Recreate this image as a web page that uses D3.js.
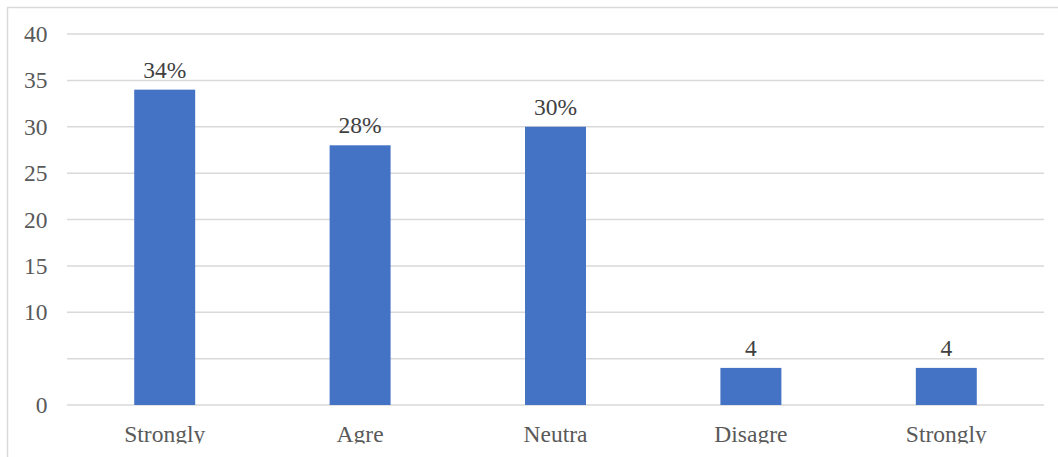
<!DOCTYPE html>
<html>
<head>
<meta charset="utf-8">
<script src="https://cdn.jsdelivr.net/npm/d3@7"></script>
<style>
  html, body { margin: 0; padding: 0; background: #fff; }
  svg { display: block; }
  text { font-family: "Liberation Serif", "Times New Roman", serif; }
</style>
</head>
<body>
<svg id="chart" width="1058" height="457"></svg>
<script>
// Survey responses (counts / percentages)
const categories = ["Strongly", "Agre", "Neutra", "Disagre", "Strongly"];
const values = [34, 28, 30, 4, 4];
const valueLabels = ["34%", "28%", "30%", "4", "4"];
const gridValues = [0, 5, 10, 15, 20, 25, 30, 35, 40];
const tickValues = [0, 10, 15, 20, 25, 30, 35, 40];
const tickLabels = ["0", "10", "15", "20", "25", "30", "35", "40"];

const svg = d3.select("#chart");
const W = 1058, H = 457;
const plot = { left: 67, right: 1044, top: 34, bottom: 405 };
const FONT = 23.5;

const x = d3.scaleBand()
  .domain(d3.range(categories.length))
  .range([plot.left, plot.right])
  .paddingInner(0.688)
  .paddingOuter(0.344);

const y = d3.scaleLinear()
  .domain([0, 40])
  .range([plot.bottom, plot.top]);

// chart frame (top and left edges)
svg.append("path")
  .attr("d", `M7.5,${H} V7.5 H${W}`)
  .attr("fill", "none")
  .attr("stroke", "#d9d9d9")
  .attr("stroke-width", 1.5);

// horizontal gridlines
svg.append("g")
  .selectAll("line")
  .data(gridValues)
  .join("line")
  .attr("x1", plot.left)
  .attr("x2", plot.right)
  .attr("y1", d => y(d))
  .attr("y2", d => y(d))
  .attr("stroke", "#d9d9d9")
  .attr("stroke-width", 1.5);

// y axis labels
const yAxis = d3.axisLeft(y)
  .tickValues(tickValues)
  .tickFormat((d, i) => tickLabels[i])
  .tickSize(0)
  .tickPadding(19.5);

const yg = svg.append("g")
  .attr("transform", `translate(${plot.left},0)`)
  .call(yAxis);
yg.select(".domain").remove();
yg.selectAll("text")
  .attr("font-size", FONT)
  .attr("fill", "#595959");

// bars
svg.append("g")
  .selectAll("rect")
  .data(values)
  .join("rect")
  .attr("x", (d, i) => x(i))
  .attr("y", d => y(d))
  .attr("width", x.bandwidth())
  .attr("height", d => y(0) - y(d))
  .attr("fill", "#4472c4");

// value labels above bars
svg.append("g")
  .selectAll("text")
  .data(values)
  .join("text")
  .attr("x", (d, i) => x(i) + x.bandwidth() / 2)
  .attr("y", d => y(d) - 12)
  .attr("text-anchor", "middle")
  .attr("font-size", FONT)
  .attr("fill", "#404040")
  .text((d, i) => valueLabels[i]);

// category labels, cut off at the lower edge of the chart area
svg.append("clipPath")
  .attr("id", "cat-clip")
  .append("rect")
  .attr("x", 0)
  .attr("y", 0)
  .attr("width", W)
  .attr("height", 443.5);

const xAxis = d3.axisBottom(x)
  .tickFormat(i => categories[i])
  .tickSize(0);

const xg = svg.append("g")
  .attr("clip-path", "url(#cat-clip)")
  .append("g")
  .attr("transform", `translate(0,${plot.bottom})`)
  .call(xAxis);
xg.select(".domain").remove();
xg.selectAll("text")
  .attr("font-size", FONT)
  .attr("fill", "#595959")
  .attr("dy", null)
  .attr("y", 37);
</script>
</body>
</html>
